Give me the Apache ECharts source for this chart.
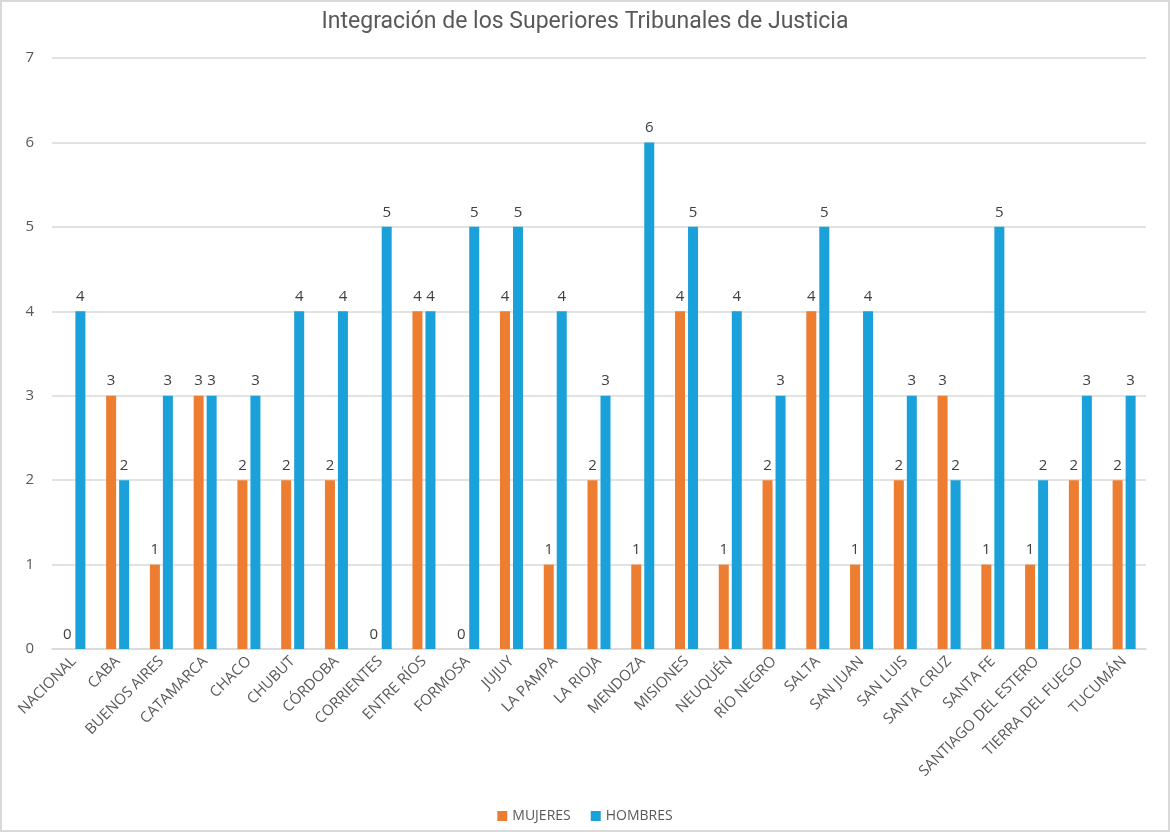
<!DOCTYPE html>
<html>
<head>
<meta charset="utf-8">
<script src="https://cdn.jsdelivr.net/npm/echarts@6/dist/echarts.min.js"></script>
<style>
  html, body { margin: 0; padding: 0; background: #fff; }
  #main { width: 1170px; height: 832px; box-sizing: border-box; border: 2px solid #d9d9d9; }
</style>
</head>
<body>
<div id="main"></div>
<script>
// provincias / tribunales
var categorias = ['NACIONAL', 'CABA', 'BUENOS AIRES', 'CATAMARCA', 'CHACO', 'CHUBUT', 'CÓRDOBA',
  'CORRIENTES', 'ENTRE RÍOS', 'FORMOSA', 'JUJUY', 'LA PAMPA', 'LA RIOJA', 'MENDOZA', 'MISIONES',
  'NEUQUÉN', 'RÍO NEGRO', 'SALTA', 'SAN JUAN', 'SAN LUIS', 'SANTA CRUZ', 'SANTA FE',
  'SANTIAGO DEL ESTERO', 'TIERRA DEL FUEGO', 'TUCUMÁN'];
var mujeres = [0, 3, 1, 3, 2, 2, 2, 0, 4, 0, 4, 1, 2, 1, 4, 1, 2, 4, 1, 2, 3, 1, 1, 2, 2];
var hombres = [4, 2, 3, 3, 3, 4, 4, 5, 4, 5, 5, 4, 3, 6, 5, 4, 3, 5, 4, 3, 2, 5, 2, 3, 3];

var chart = echarts.init(document.getElementById('main'));
var fuente = 'Open Sans';
var labelStyle = { show: true, position: 'top', color: '#404040', fontSize: 15, fontFamily: fuente, distance: 7 };

var option = {
  animation: false,
  title: {
    text: 'Integración de los Superiores Tribunales de Justicia',
    left: 'center',
    top: 4,
    textStyle: { color: '#595959', fontSize: 23, fontWeight: 'normal', fontFamily: 'Roboto' }
  },
  legend: {
    bottom: 2,
    left: 'center',
    itemWidth: 10,
    itemHeight: 10,
    itemGap: 20,
    icon: 'rect',
    textStyle: { color: '#595959', fontSize: 14, fontFamily: fuente },
    data: ['MUJERES', 'HOMBRES']
  },
  grid: { left: 50, right: 22, top: 56, bottom: 181, containLabel: false },
  xAxis: {
    type: 'category',
    data: categorias,
    axisTick: { show: false },
    axisLine: { lineStyle: { color: '#d9d9d9', width: 1.5 } },
    axisLabel: { interval: 0, rotate: 45, color: '#595959', fontSize: 15, fontFamily: fuente, margin: 10 }
  },
  yAxis: {
    type: 'value',
    min: 0,
    max: 7,
    interval: 1,
    axisLine: { show: false },
    axisTick: { show: false },
    axisLabel: { color: '#595959', fontSize: 15, fontFamily: fuente, margin: 18 },
    splitLine: { lineStyle: { color: '#d9d9d9', width: 1.5 } }
  },
  series: [
    {
      name: 'MUJERES',
      type: 'bar',
      data: mujeres,
      barWidth: 10,
      barGap: '30%',
      itemStyle: { color: '#ED7D31' },
      label: labelStyle
    },
    {
      name: 'HOMBRES',
      type: 'bar',
      data: hombres,
      barWidth: 10,
      itemStyle: { color: '#1BA1D9' },
      label: labelStyle
    }
  ]
};

chart.setOption(option);
</script>
</body>
</html>
